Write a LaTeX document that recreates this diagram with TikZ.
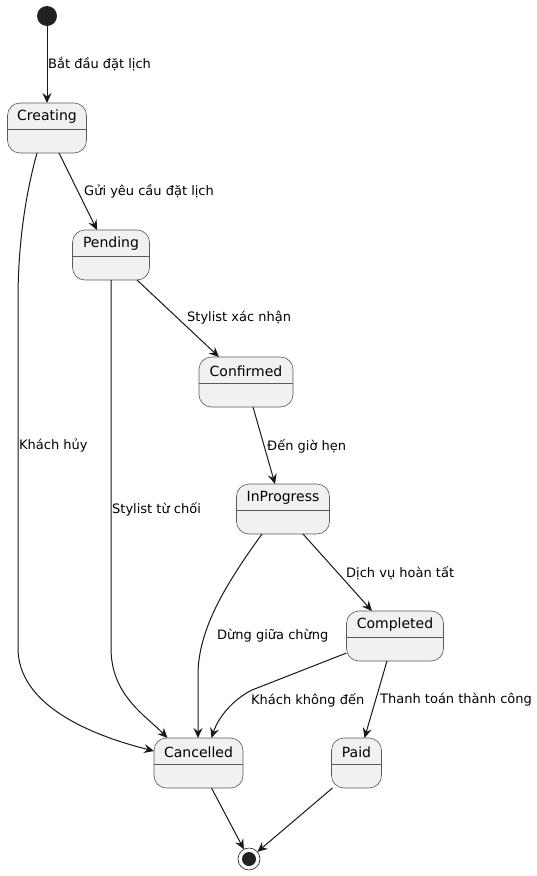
\documentclass[tikz,border=0pt]{standalone}
\usepackage{fontspec}
\setmainfont{DejaVu Sans}
\usetikzlibrary{arrows.meta}
\definecolor{boxfill}{HTML}{F1F1F1}
\definecolor{ink}{HTML}{181818}
\definecolor{boxline}{HTML}{5A5A5A}
\definecolor{dot}{HTML}{222222}
\begin{document}
\begin{tikzpicture}[x=1pt,y=-1pt,
  stbox/.style={draw=boxline, fill=boxfill, rounded corners=12.5pt, line width=0.6pt,
    minimum height=50pt, inner sep=0pt, outer sep=0pt},
  sttitle/.style={inner sep=0pt, font=\fontsize{14}{16}\selectfont},
  divider/.style={draw=boxline, line width=0.6pt},
  trans/.style={draw=ink, line width=1pt, -{Stealth[length=10pt,width=9pt,inset=3.5pt]}},
  lbl/.style={anchor=west, inner sep=0pt, font=\fontsize{13}{15}\selectfont},
  startc/.style={circle, fill=dot, minimum size=20pt, inner sep=0pt, outer sep=0pt},
  endc/.style={circle, draw=ink, fill=white, line width=0.6pt, minimum size=22pt, inner sep=0pt, outer sep=0pt}]
\useasboundingbox (0,0) rectangle (537,876);
\fill[white] (0,0) rectangle (537,876);

% states
\node[stbox, minimum width=79pt] (creating) at (47,128) {};
\node[stbox, minimum width=77pt] (pending) at (111,255) {};
\node[stbox, minimum width=94pt] (confirmed) at (246,382) {};
\node[stbox, minimum width=93pt] (inprogress) at (283,509) {};
\node[stbox, minimum width=97pt] (completed) at (395,636) {};
\node[stbox, minimum width=89pt] (cancelled) at (198.5,763) {};
\node[stbox, minimum width=50pt] (paid) at (356.5,763) {};

\foreach \s/\t in {creating/Creating, pending/Pending, confirmed/Confirmed,
  inprogress/InProgress, completed/Completed, cancelled/Cancelled, paid/Paid}{
  \node[sttitle] (\s-title) at ([yshift=-14pt]\s.north) {\t};
  \draw[divider] ([yshift=-26pt]\s.north west) -- ([yshift=-26pt]\s.north east);
}

\node[startc] (start) at (47,16) {};
\node[endc] (finish) at (249,859) {};
\node[circle, fill=dot, minimum size=14pt, inner sep=0pt] (finishdot) at (finish) {};

% transitions
\draw[trans] (start) -- (creating.north);
\draw[trans] ([xshift=12pt]creating.south) -- ([xshift=-14pt]pending.north);
\draw[trans] ([xshift=-10pt]creating.south) .. controls (24,200) and (18,250) .. (18,300)
  -- (18,648) .. controls (18,705) and (90,735) .. ([yshift=12pt]cancelled.west);
\draw[trans] (pending.south) -- (111,648) .. controls (111,695) and (145,715) .. ([xshift=-31pt]cancelled.north);
\draw[trans] ([xshift=26pt]pending.south) -- ([xshift=-27pt]confirmed.north);
\draw[trans] ([xshift=7pt]confirmed.south) -- ([xshift=-8pt]inprogress.north);
\draw[trans] ([xshift=-21pt]inprogress.south) .. controls (225,585) and (198,630) .. (198,675)
  -- ([xshift=-0.5pt]cancelled.north);
\draw[trans] ([xshift=20pt]inprogress.south) -- ([xshift=-23pt]completed.north);
\draw[trans] ([yshift=-17pt]completed.west) -- (252,690) .. controls (232,700) and (218,718) .. ([xshift=13pt]cancelled.north);
\draw[trans] ([xshift=-8pt]completed.south) -- ([xshift=8pt]paid.north);
\draw[trans] ([xshift=13pt]cancelled.south) -- (finish);
\draw[trans] ([xshift=-24pt]paid.south) -- (finish);

% labels
\node[lbl] (l1) at (48,64) {Bắt đầu đặt lịch};
\node[lbl] (l2) at (84,191) {Gửi yêu cầu đặt lịch};
\node[lbl] (l3) at (19,446) {Khách hủy};
\node[lbl] (l4) at (112,509) {Stylist từ chối};
\node[lbl] (l5) at (187,318) {Stylist xác nhận};
\node[lbl] (l6) at (267,446) {Đến giờ hẹn};
\node[lbl] (l7) at (217,636) {Dừng giữa chừng};
\node[lbl] (l8) at (346,573) {Dịch vụ hoàn tất};
\node[lbl] (l9) at (251,700) {Khách không đến};
\node[lbl] (l10) at (380,700) {Thanh toán thành công};
\end{tikzpicture}
\end{document}
